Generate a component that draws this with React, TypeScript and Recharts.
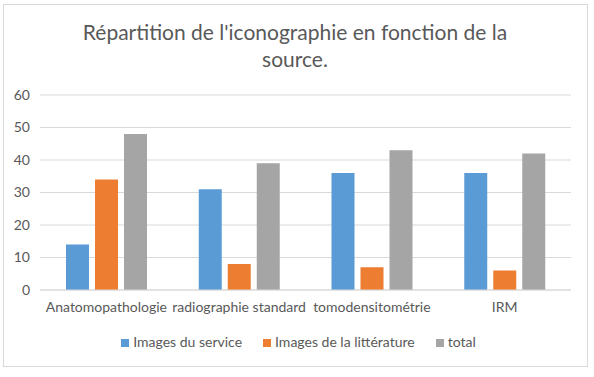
import React from 'react';
import { BarChart, Bar, XAxis, YAxis, CartesianGrid, Legend } from 'recharts';

const categories = ['Anatomopathologie', 'radiographie standard', 'tomodensitométrie', 'IRM'];
const imagesService = [14, 31, 36, 36];
const imagesLitterature = [34, 8, 7, 6];
const total = [48, 39, 43, 42];
const yTicks = [0, 10, 20, 30, 40, 50, 60];

const data = categories.map((name, i) => ({
  name,
  service: imagesService[i],
  litterature: imagesLitterature[i],
  total: total[i],
}));

const font = 'Lato, "Open Sans", sans-serif';
const textColor = '#595959';

const App: React.FC = () => {
  return (
    <div style={{ position: 'absolute', left: 0, top: 0, width: 594, height: 377, background: '#fff', fontFamily: font }}>
      {/* chart border */}
      <div
        style={{
          position: 'absolute', left: 3, top: 4, width: 585, height: 363,
          border: '1px solid #d9d9d9', boxSizing: 'border-box',
        }}
      />
      <div
        style={{
          position: 'absolute', left: 50, top: 18, width: 490, textAlign: 'center',
          fontSize: 21, lineHeight: '27px', color: textColor,
        }}
      >
        Répartition de l'iconographie en fonction de la source.
      </div>
      <div style={{ position: 'absolute', left: 0, top: 0 }}>
        <BarChart
          width={594}
          height={377}
          data={data}
          margin={{ top: 95, right: 23, bottom: 40, left: 0 }}
          barSize={23}
          barGap={6}
        >
          <CartesianGrid vertical={false} stroke="#d9d9d9" />
          <XAxis
            dataKey="name"
            tickLine={false}
            axisLine={{ stroke: '#d9d9d9' }}
            tick={{ fill: textColor, fontSize: 14, fontFamily: font }}
            tickMargin={6}
            interval={0}
          />
          <YAxis
            width={40}
            domain={[0, 60]}
            ticks={yTicks}
            tickLine={false}
            axisLine={false}
            tick={{ fill: textColor, fontSize: 14, fontFamily: font }}
            tickMargin={4}
          />
          <Legend
            verticalAlign="bottom"
            iconType="square"
            iconSize={8}
            itemSorter={null}
            wrapperStyle={{ top: 333, left: 18, fontSize: 14, fontFamily: font, color: textColor }}
            formatter={(value: string, _entry: unknown, index: number) => (
              <span style={{ color: textColor, marginRight: index < 2 ? 11 : 0 }}>{value}</span>
            )}
          />
          <Bar dataKey="service" name="Images du service" fill="#5b9bd5" isAnimationActive={false} />
          <Bar dataKey="litterature" name="Images de la littérature" fill="#ed7d31" isAnimationActive={false} />
          <Bar dataKey="total" name="total" fill="#a5a5a5" isAnimationActive={false} />
        </BarChart>
      </div>
    </div>
  );
};

export default App;
